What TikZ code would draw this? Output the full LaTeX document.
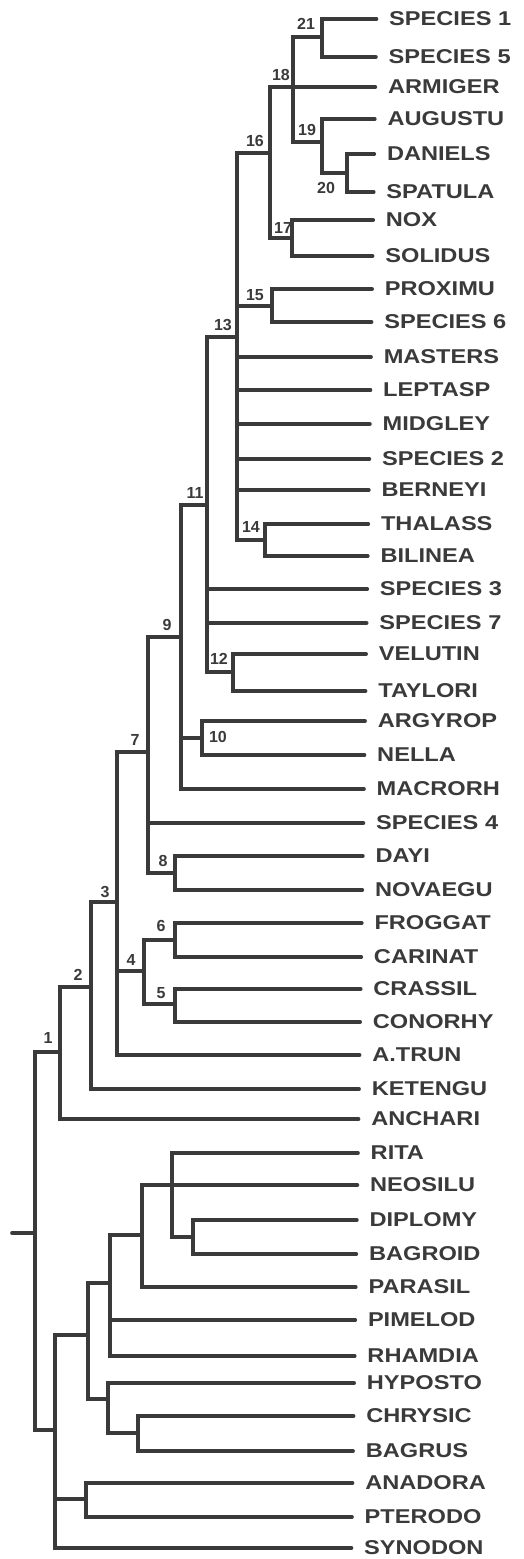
\documentclass[tikz,border=0pt]{standalone}
\usepackage{fontspec}
\setmainfont{Liberation Sans}
\definecolor{ink}{RGB}{58,58,58}
\begin{document}
\begin{tikzpicture}[x=1pt,y=-1pt,
  br/.style={draw=ink, line width=3.6pt, line cap=round, line join=miter},
  lf/.style={br, shorten >=12.5pt},
  leaf/.style={anchor=west, inner sep=0pt, text=ink, font=\fontsize{20}{22}\selectfont\bfseries},
  num/.style={inner sep=0pt, text=ink, font=\fontsize{16}{18}\selectfont\bfseries}]
\useasboundingbox (0,0) rectangle (523,1559);
% leaves
\foreach \i/\n/\y in {1/SPECIES 1/19, 2/SPECIES 5/57, 3/ARMIGER/87, 4/AUGUSTU/119,
  5/DANIELS/154, 6/SPATULA/192, 7/NOX/220, 8/SOLIDUS/256, 9/PROXIMU/289,
  10/SPECIES 6/322, 11/MASTERS/357, 12/LEPTASP/390, 13/MIDGLEY/424,
  14/SPECIES 2/459, 15/BERNEYI/490, 16/THALASS/524, 17/BILINEA/556,
  18/SPECIES 3/589, 19/SPECIES 7/623, 20/VELUTIN/654, 21/TAYLORI/691,
  22/ARGYROP/721, 23/NELLA/755, 24/MACRORH/789, 25/SPECIES 4/823, 26/DAYI/856,
  27/NOVAEGU/890, 28/FROGGAT/923, 29/CARINAT/957, 30/CRASSIL/989,
  31/CONORHY/1022, 32/A.TRUN/1055, 33/KETENGU/1089, 34/ANCHARI/1119,
  35/RITA/1153, 36/NEOSILU/1185, 37/DIPLOMY/1220, 38/BAGROID/1254,
  39/PARASIL/1287, 40/PIMELOD/1320, 41/RHAMDIA/1356, 42/HYPOSTO/1383,
  43/CHRYSIC/1416, 44/BAGRUS/1451, 45/ANADORA/1483, 46/PTERODO/1517,
  47/SYNODON/1548}
{ \pgfmathsetmacro\xe{389-25*(\i-1)/46}
  \node[leaf] (L\i) at (\xe,\y) {\scalebox{1.18}[1]{\n}}; }
% internal nodes
\coordinate (n21) at (322,37);
\coordinate (n20) at (347,173);
\coordinate (n19) at (322,142);
\coordinate (n18) at (293,87);
\coordinate (n17) at (292,238);
\coordinate (n16) at (270,153);
\coordinate (n15) at (272,306);
\coordinate (n14) at (265,540);
\coordinate (n13) at (237,337);
\coordinate (n12) at (233,672);
\coordinate (n11) at (207,505);
\coordinate (n10) at (202,738);
\coordinate (n9) at (181,637);
\coordinate (n8) at (175,873);
\coordinate (n7) at (148,752);
\coordinate (n6) at (175,940);
\coordinate (n5) at (175,1004);
\coordinate (n4) at (144,971);
\coordinate (n3) at (117,902);
\coordinate (n2) at (91,987);
\coordinate (n1) at (60,1052);
\coordinate (r) at (35,1233);
\coordinate (tick) at (12,1233);
\coordinate (nB) at (55,1430);
\coordinate (nC) at (88,1335);
\coordinate (nD) at (86,1499);
\coordinate (nE) at (110,1283);
\coordinate (nF) at (108,1399);
\coordinate (nG) at (142,1235);
\coordinate (nH) at (172,1185);
\coordinate (nI) at (193,1237);
\coordinate (nJ) at (138,1433);
% internal connectors
\foreach \p/\c in {n18/n21, n18/n19, n19/n20, n16/n18, n16/n17, n13/n16, n13/n15,
  n13/n14, n11/n13, n11/n12, n9/n11, n9/n10, n7/n9, n7/n8, n4/n6, n4/n5, n3/n7,
  n3/n4, n2/n3, n1/n2, r/n1, r/nB, nB/nC, nB/nD, nC/nE, nC/nF, nE/nG, nG/nH,
  nH/nI, nF/nJ}
  \draw[br] (\p) |- (\c);
% leaf connectors
\foreach \p/\c in {n21/1, n21/2, n18/3, n19/4, n20/5, n20/6, n17/7, n17/8, n15/9,
  n15/10, n13/11, n13/12, n13/13, n13/14, n13/15, n14/16, n14/17, n11/18, n11/19,
  n12/20, n12/21, n10/22, n10/23, n9/24, n7/25, n8/26, n8/27, n6/28, n6/29, n5/30,
  n5/31, n3/32, n2/33, n1/34, nH/35, nG/36, nI/37, nI/38, nG/39, nE/40, nE/41,
  nF/42, nJ/43, nJ/44, nD/45, nD/46, nB/47}
  \draw[lf] (\p) |- (L\c.west);
\draw[br] (tick) -- (r);
% node numbers
\node[num] (t21) at (306,24) {21};
\node[num] (t18) at (281,75) {18};
\node[num] (t16) at (255,141) {16};
\node[num] (t19) at (307,130) {19};
\node[num] (t20) at (326,188) {20};
\node[num] (t17) at (283,228) {17};
\node[num] (t15) at (255,295) {15};
\node[num] (t13) at (223,325) {13};
\node[num] (t14) at (251,527) {14};
\node[num] (t11) at (195,493) {11};
\node[num] (t12) at (219,659) {12};
\node[num] (t9) at (167,625) {9};
\node[num] (t10) at (218,737) {10};
\node[num] (t7) at (135,740) {7};
\node[num] (t8) at (163,861) {8};
\node[num] (t6) at (161,926) {6};
\node[num] (t5) at (161,993) {5};
\node[num] (t4) at (131,960) {4};
\node[num] (t3) at (105,892) {3};
\node[num] (t2) at (78,975) {2};
\node[num] (t1) at (48,1038) {1};
\end{tikzpicture}
\end{document}
